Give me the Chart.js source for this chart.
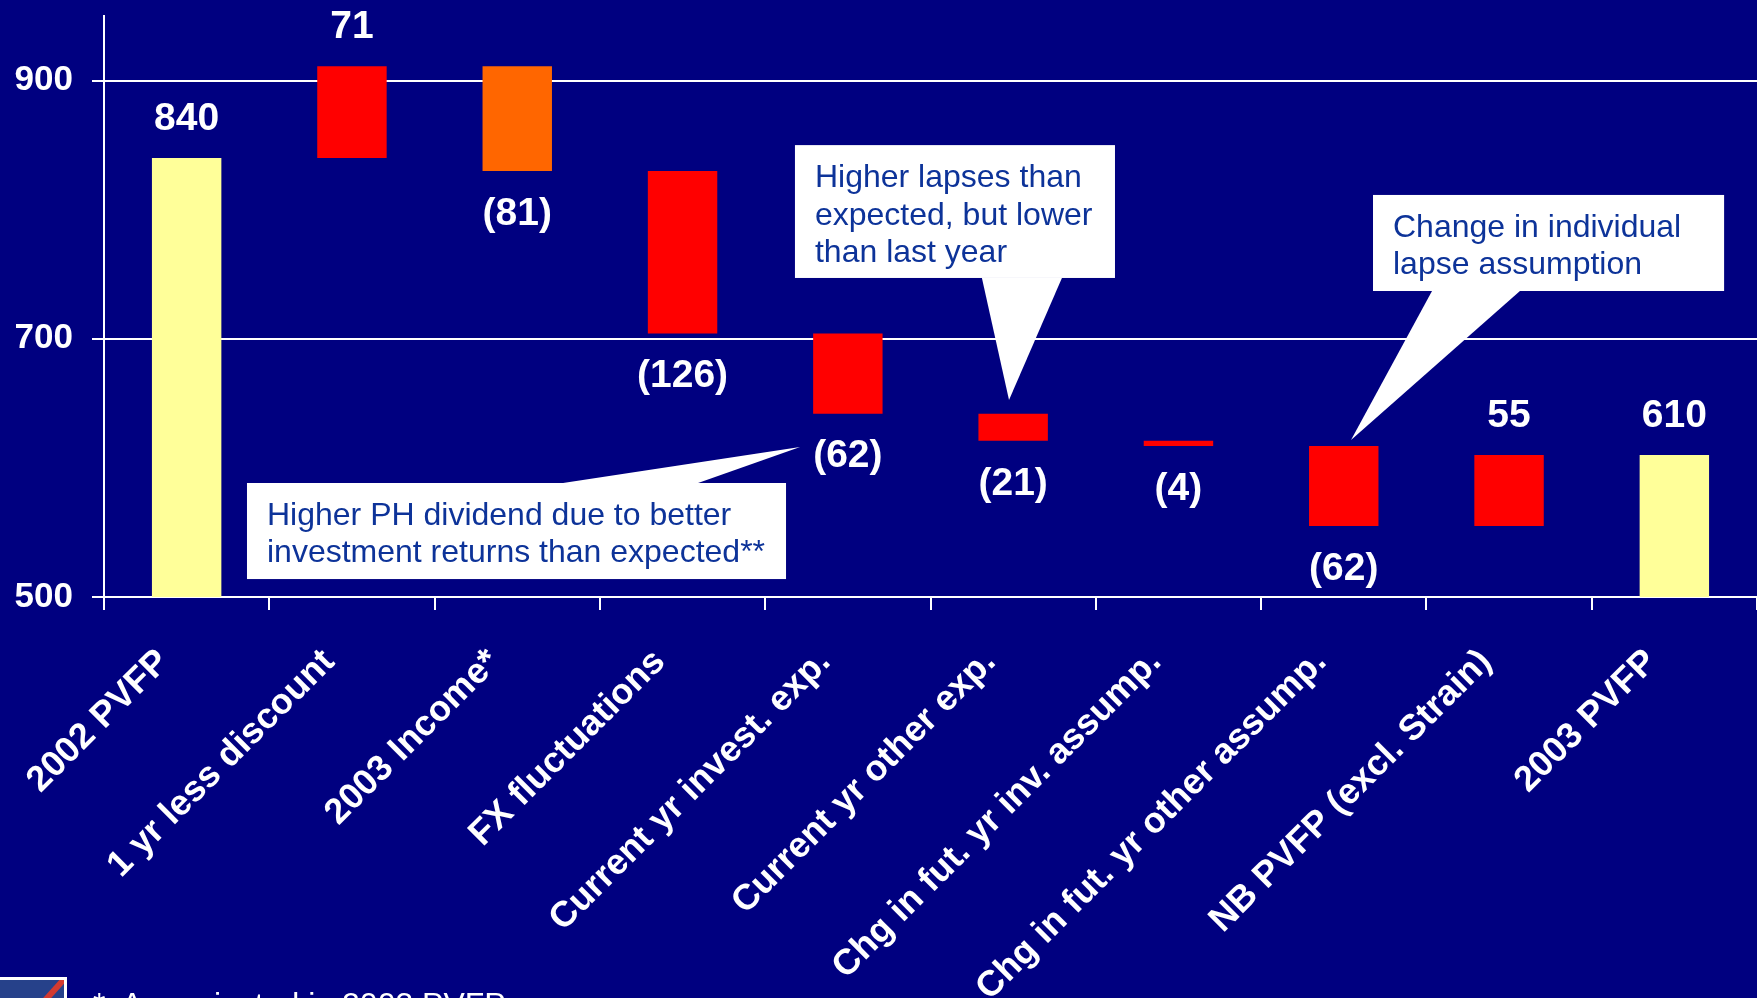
<!DOCTYPE html>
<html>
<head>
<meta charset="utf-8">
<title>PVFP movement 2002 - 2003</title>
<script src="https://cdn.jsdelivr.net/npm/chart.js@4.4.1/dist/chart.umd.min.js"></script>
<style>
    html, body { margin: 0; padding: 0; background: #000080; overflow: hidden; }
    #wrap { position: relative; width: 1757px; height: 998px; background: #000080; }
    #pvfpChart { display: block; }
    .logo {
        position: absolute; left: -3px; top: 977px; width: 64px; height: 40px;
        background: #26418a; border: 3px solid #fff; overflow: hidden;
    }
    .logo span {
        position: absolute; left: 46px; top: -14px; width: 6px; height: 60px;
        background: #d33a30; transform: rotate(42deg);
    }
    .footnote {
        position: absolute; left: 93px; top: 988px; white-space: pre;
        font: 32px/32px "Liberation Sans", Arial, sans-serif; color: #fff;
    }
</style>
</head>
<body>
<div id="wrap">
    <canvas id="pvfpChart" width="1757" height="998"></canvas>
    <div class="logo"><span></span></div>
    <div class="footnote">*  As projected in 2003 PVFP</div>
</div>
<script>
// ====== Data ======
const categories = [
    '2002 PVFP', '1 yr less discount', '2003 Income*', 'FX fluctuations',
    'Current yr invest. exp.', 'Current yr other exp.', 'Chg in fut. yr inv. assump.',
    'Chg in fut. yr other assump.', 'NB PVFP (excl. Strain)', '2003 PVFP'
];
const changes = [840, 71, -81, -126, -62, -21, -4, -62, 55, 610];
const isTotal = [true, false, false, false, false, false, false, false, false, true];
const yTicks = [500, 700, 900];
const yMin = 500, yMax = 950;

// bar colours (2003 income step is orange in the original)
const barColors = ['#ffff99', '#ff0000', '#ff6600', '#ff0000', '#ff0000',
                   '#ff0000', '#ff0000', '#ff0000', '#ff0000', '#ffff99'];

// waterfall: each step floats from the running total
let running = 0;
const ranges = changes.map((v, i) => {
    if (isTotal[i]) { running = v; return [yMin, v]; }
    const start = running;
    running += v;
    return [start, running];
});

// callouts, in category / value units so they follow the scales
const callouts = [
    { lines: ['Higher PH dividend due to better', 'investment returns than expected**'],
      box: [0.365, 3.626, 588.3, 513.9], base: [2.277, 3.094], tip: [3.711, 616.2] },
    { lines: ['Higher lapses than', 'expected, but lower', 'than last year'],
      box: [3.680, 5.616, 850.0, 747.1], base: [4.811, 5.295], tip: [4.975, 652.6] },
    { lines: ['Change in individual', 'lapse assumption'],
      box: [7.177, 9.301, 811.4, 737.0], base: [7.534, 8.066], tip: [7.044, 621.6] }
];

const FONT = '"Liberation Sans", Arial, sans-serif';

// ====== Plugins ======
const valueLabels = {
    id: 'valueLabels',
    afterDatasetsDraw(chart) {
        const { ctx } = chart;
        const meta = chart.getDatasetMeta(0);
        ctx.save();
        ctx.fillStyle = '#ffffff';
        ctx.font = 'bold 39px ' + FONT;
        ctx.textAlign = 'center';
        ctx.textBaseline = 'middle';
        meta.data.forEach((bar, i) => {
            const v = changes[i];
            const top = Math.min(bar.y, bar.base);
            const bottom = Math.max(bar.y, bar.base);
            if (v >= 0) ctx.fillText(String(v), bar.x, top - 39);
            else ctx.fillText('(' + Math.abs(v) + ')', bar.x, bottom + 43);
        });
        ctx.restore();
    }
};

const calloutBoxes = {
    id: 'calloutBoxes',
    afterDraw(chart) {
        const { ctx } = chart;
        const xs = chart.scales.x, ys = chart.scales.y;
        const x0 = xs.getPixelForValue(0);
        const step = xs.getPixelForValue(1) - x0;
        const xAt = c => x0 + c * step;
        const yAt = v => ys.getPixelForValue(v);

        ctx.save();
        callouts.forEach(c => {
            const left = xAt(c.box[0]), right = xAt(c.box[1]);
            const top = yAt(c.box[2]), bottom = yAt(c.box[3]);
            const tx = xAt(c.tip[0]), ty = yAt(c.tip[1]);
            const edge = ty > bottom ? bottom : top;

            ctx.fillStyle = '#ffffff';
            ctx.fillRect(left, top, right - left, bottom - top);
            ctx.beginPath();
            ctx.moveTo(xAt(c.base[0]), edge);
            ctx.lineTo(tx, ty);
            ctx.lineTo(xAt(c.base[1]), edge);
            ctx.closePath();
            ctx.fill();

            ctx.fillStyle = '#0d3399';
            ctx.font = '32px ' + FONT;
            ctx.textAlign = 'left';
            ctx.textBaseline = 'alphabetic';
            c.lines.forEach((line, k) => ctx.fillText(line, left + 20, top + 42 + k * 37.5));
        });
        ctx.restore();
    }
};

// ====== Chart ======
new Chart(document.getElementById('pvfpChart'), {
    type: 'bar',
    data: {
        labels: categories,
        datasets: [{
            data: ranges,
            backgroundColor: barColors,
            borderWidth: 0,
            barPercentage: 0.42,
            categoryPercentage: 1
        }]
    },
    options: {
        responsive: false,
        animation: false,
        devicePixelRatio: 1,
        layout: { padding: { top: 16, right: 0, left: 0, bottom: 0 } },
        plugins: { legend: { display: false }, tooltip: { enabled: false } },
        scales: {
            x: {
                afterFit(scale) {
                    scale.height = 401;
                    scale.paddingLeft = 0;
                    scale.paddingRight = 0;
                },
                grid: { drawOnChartArea: false, drawTicks: true, tickLength: 13, color: '#ffffff', lineWidth: 2, offset: true },
                border: { color: '#ffffff', width: 2 },
                ticks: {
                    color: '#ffffff', font: { family: FONT, size: 36, weight: 'bold' },
                    minRotation: 45, maxRotation: 45, autoSkip: false,
                    labelOffset: -23, padding: 31
                }
            },
            y: {
                min: yMin, max: yMax,
                afterFit(scale) {
                    scale.width = 104;
                    scale.paddingTop = 0;
                    scale.paddingBottom = 0;
                },
                afterBuildTicks(scale) { scale.ticks = yTicks.map(v => ({ value: v })); },
                grid: { color: '#ffffff', lineWidth: 2, tickLength: 12 },
                border: { color: '#ffffff', width: 2 },
                ticks: {
                    color: '#ffffff', font: { family: FONT, size: 35, weight: 'bold' },
                    padding: 19
                }
            }
        }
    },
    plugins: [valueLabels, calloutBoxes]
});
</script>
</body>
</html>
